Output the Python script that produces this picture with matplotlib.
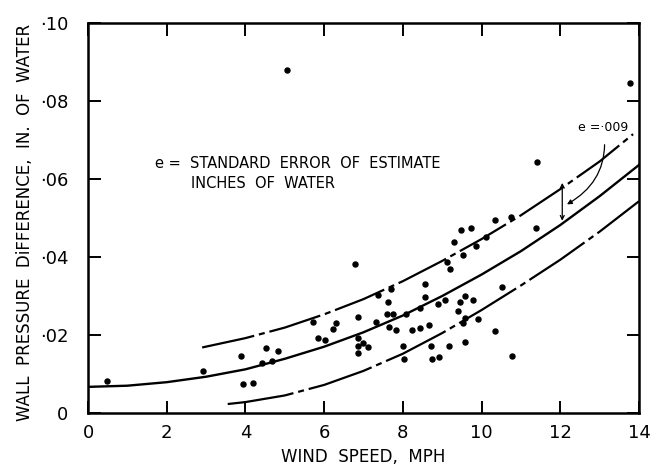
import numpy as np
import matplotlib
matplotlib.use('Agg')
import matplotlib.pyplot as plt

# observed points: wind speed (mph), wall pressure difference (in. of water)
wind = [0.48, 2.91, 3.90, 3.95, 4.18, 4.43, 4.51, 4.68, 4.84, 5.06,
        5.72, 5.85, 6.03, 6.23, 6.30, 6.78, 6.86, 6.86, 6.86, 6.99,
        6.86, 7.11, 7.32, 7.37, 7.62, 7.70, 7.59, 7.75, 7.65, 7.82,
        8.00, 8.03, 8.08, 8.23, 8.43, 8.43, 8.56, 8.56, 8.66, 8.71,
        8.73, 8.91, 8.89, 9.06, 9.11, 9.19, 9.16, 9.29, 9.39, 9.44,
        9.49, 9.54, 9.54, 9.59, 9.59, 9.59, 9.72, 9.77, 9.87, 9.90,
        10.10, 10.35, 10.35, 10.53, 10.76, 10.78, 11.38, 11.42, 13.77]
pressure = [0.0082, 0.0108, 0.0146, 0.0074, 0.0077, 0.0128, 0.0167, 0.0133, 0.0159, 0.0879,
            0.0233, 0.0192, 0.0187, 0.0215, 0.0231, 0.0382, 0.0246, 0.0192, 0.0172, 0.0179,
            0.0154, 0.0169, 0.0233, 0.0303, 0.0285, 0.0318, 0.0254, 0.0254, 0.0221, 0.0213,
            0.0172, 0.0138, 0.0254, 0.0213, 0.0269, 0.0218, 0.0331, 0.0297, 0.0226, 0.0172,
            0.0138, 0.0144, 0.0279, 0.0290, 0.0387, 0.0369, 0.0172, 0.0438, 0.0262, 0.0285,
            0.0469, 0.0405, 0.0231, 0.0300, 0.0244, 0.0182, 0.0474, 0.0290, 0.0428, 0.0241,
            0.0451, 0.0495, 0.0210, 0.0323, 0.0503, 0.0146, 0.0474, 0.0644, 0.0846]

# fitted curve and the +/- standard error bands
fit_x = [0, 1, 2, 3, 4, 5, 6, 7, 8, 9, 10, 11, 12, 13, 14]
fit_y = [0.0067, 0.0070, 0.0079, 0.0093, 0.0112, 0.0139, 0.0170, 0.0207,
         0.0250, 0.0300, 0.0355, 0.0415, 0.0482, 0.0556, 0.0636]
upper_x = [2.9, 4, 5, 6, 7, 8, 9, 10, 11, 12, 13, 13.85]
upper_y = [0.0168, 0.0192, 0.0219, 0.0253, 0.0292, 0.0338, 0.0390,
           0.0446, 0.0507, 0.0574, 0.0645, 0.0715]
lower_x = [3.55, 4, 5, 6, 7, 8, 9, 10, 11, 12, 13, 14]
lower_y = [0.0023, 0.0028, 0.0045, 0.0072, 0.0108, 0.0152, 0.0205,
           0.0264, 0.0327, 0.0393, 0.0465, 0.0543]

xticks = [0, 2, 4, 6, 8, 10, 12, 14]
yticks = [0, 0.02, 0.04, 0.06, 0.08, 0.10]
ytick_labels = ['0', '\u00b702', '\u00b704', '\u00b706', '\u00b708', '\u00b710']

fig = plt.figure(figsize=(6.59, 4.73), dpi=100)
ax = fig.add_axes([88 / 659, 1 - 413 / 473, 551 / 659, 390 / 473])

ax.scatter(wind, pressure, s=13, c='black', marker='o', zorder=3)
ax.plot(fit_x, fit_y, color='black', lw=1.7)
ax.plot(upper_x, upper_y, color='black', lw=1.6, linestyle=(0, (24, 2.2, 2.7, 2.2)))
ax.plot(lower_x, lower_y, color='black', lw=1.6, linestyle=(0, (30, 2.2, 2.7, 2.2)))

ax.set_xlim(0, 14)
ax.set_ylim(0, 0.10)
ax.set_xticks(xticks)
ax.set_xticklabels([str(v) for v in xticks], fontsize=13)
ax.set_yticks(yticks)
ax.set_yticklabels(ytick_labels, fontsize=13)
ax.tick_params(direction='in', length=9, width=1.4, top=True, right=True)
ax.tick_params(axis='y', pad=14)
ax.tick_params(axis='x', pad=8)
for s in ax.spines.values():
    s.set_linewidth(1.8)

ax.set_xlabel('WIND  SPEED,  MPH', fontsize=12, labelpad=4)
fig.text(25 / 659, 1 - 222 / 473,
         'WALL  PRESSURE  DiFFERENCE,  IN.  OF  WATER',
         rotation=90, ha='center', va='center', fontsize=12)

ax.text(1.7, 0.0628, 'e =  STANDARD  ERROR  OF  ESTIMATE', fontsize=10.5)
ax.text(2.62, 0.0578, 'INCHES  OF  WATER', fontsize=10.5)

# e = .009 callout
ax.annotate('', xy=(12.05, 0.0493), xytext=(12.05, 0.0590),
            arrowprops=dict(arrowstyle='<->', lw=0.9, color='black',
                            shrinkA=0, shrinkB=0, mutation_scale=7))
ax.annotate('e =\u00b7009', xy=(12.17, 0.0535), xytext=(12.45, 0.0733),
            fontsize=9, ha='left', va='center',
            arrowprops=dict(arrowstyle='-|>', lw=0.9, color='black',
                            mutation_scale=7, shrinkA=6, shrinkB=0,
                            connectionstyle='arc3,rad=-0.35'))

fig.savefig('out.png', dpi=100)
